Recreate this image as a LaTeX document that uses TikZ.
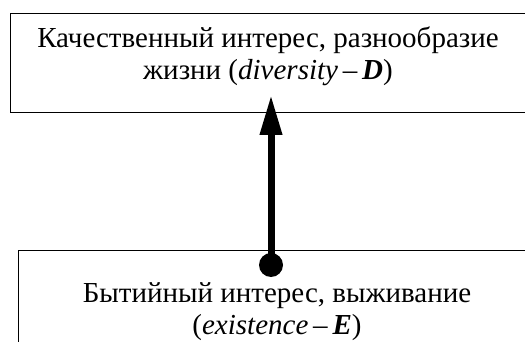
\documentclass[tikz,border=0pt]{standalone}
\usepackage{fontspec}
\setmainfont{Liberation Serif}
\usetikzlibrary{positioning,arrows.meta}
\tikzset{
  box/.style={draw, line width=1.4pt, anchor=north west, inner sep=0pt},
  boxtext/.style={align=center, font=\fontsize{29}{32}\selectfont, inner sep=0pt},
  >={Triangle[length=40pt,width=21pt]},
}

\begin{document}
\begin{tikzpicture}[x=1pt,y=1pt]
\useasboundingbox (0,0) rectangle (525,-342);
\clip (0,0) rectangle (525,-342);
% upper level
\node[box,minimum width=700pt,minimum height=99pt] (dbox) at (10,-13) {};
\node[boxtext] (dtext) at (268,-56) {Качественный интерес, разнообразие\\жизни (\textit{diversity}\,–\,\textbf{\textit{D}})};
% lower level
\node[box,minimum width=700pt,minimum height=150pt] (ebox) at (17.5,-250) {};
\node[boxtext] (etext) at (277,-312) {Бытийный интерес, выживание\\(\textit{existence}\,–\,\textbf{\textit{E}})};
% link
\node[circle,fill,minimum size=24pt,inner sep=0pt] (dot) at (271,-265) {};
\coordinate (tip) at (271,-95);
\draw[->,line width=7pt] (dot.center) -- (tip);
\end{tikzpicture}
\end{document}
